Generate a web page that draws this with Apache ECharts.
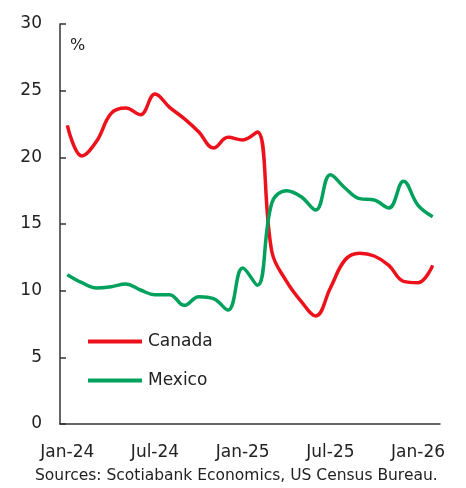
<!DOCTYPE html>
<html><head><meta charset="utf-8">
<script src="https://cdn.jsdelivr.net/npm/echarts@6/dist/echarts.min.js"></script>
<style>html,body{margin:0;padding:0;background:#fff}#c{width:466px;height:488px}</style>
</head><body><div id="c"></div>
<script>
const months = ['Jan-24','Feb-24','Mar-24','Apr-24','May-24','Jun-24','Jul-24','Aug-24','Sep-24','Oct-24','Nov-24','Dec-24',
  'Jan-25','Feb-25','Mar-25','Apr-25','May-25','Jun-25','Jul-25','Aug-25','Sep-25','Oct-25','Nov-25','Dec-25',
  'Jan-26','Feb-26'];
const canada = [22.4,20.1,21.2,23.3,23.7,23.2,24.75,23.75,22.9,21.9,20.7,21.5,21.3,21.9,12.9,10.7,9.2,8.1,10.2,12.3,12.8,12.6,11.9,10.7,10.6,11.9];
const mexico = [11.2,10.6,10.2,10.3,10.5,10.05,9.7,9.7,8.9,9.55,9.4,8.55,11.7,10.4,16.6,17.5,17.05,16.05,18.7,17.7,16.9,16.8,16.2,18.2,16.4,15.55];
const yTicks = [0,5,10,15,20,25,30];
const unitLabel = '%';
const sourceText = 'Sources: Scotiabank Economics, US Census Bureau.';

const font = 'DejaVu Sans';
const txt = '#222';
const chart = echarts.init(document.getElementById('c'), null, {renderer:'canvas'});
chart.setOption({
  animation:false,
  textStyle:{fontFamily:font},
  grid:{left:60,right:26,top:24,bottom:64,containLabel:false},
  legend:{
    orient:'vertical', left:83, top:328, itemWidth:54, itemHeight:4, itemGap:22,
    icon:'rect', textStyle:{fontFamily:font,fontSize:17,color:txt,padding:[0,0,0,1]},
    data:['Canada','Mexico']
  },
  graphic:[
    {type:'text',left:70,top:38,style:{text:unitLabel,font:'16px "DejaVu Sans"',fill:txt}},
    {type:'text',left:35,top:468,style:{text:sourceText,font:'15.5px "DejaVu Sans"',fill:txt}}
  ],
  xAxis:{
    type:'category', data:months, boundaryGap:true,
    axisLine:{lineStyle:{color:'#333',width:1.5}},
    axisTick:{interval:5,length:5,lineStyle:{color:'#333',width:1.5}},
    axisLabel:{interval:5,color:txt,fontSize:17,margin:20,fontFamily:font}
  },
  yAxis:{
    type:'value', min:yTicks[0], max:yTicks[yTicks.length-1], interval:5,
    splitLine:{show:false},
    axisLine:{show:true,lineStyle:{color:'#333',width:1.5}},
    axisTick:{show:true,inside:true,length:6,lineStyle:{color:'#333',width:1.5}},
    axisLabel:{color:txt,fontSize:17,margin:18,fontFamily:font}
  },
  series:[
    {name:'Canada',type:'line',data:canada,smooth:0.4,showSymbol:false,
      lineStyle:{color:'#ec111a',width:3.5},itemStyle:{color:'#ec111a'}},
    {name:'Mexico',type:'line',data:mexico,smooth:0.4,showSymbol:false,
      lineStyle:{color:'#00a15c',width:3.5},itemStyle:{color:'#00a15c'}}
  ]
});
</script></body></html>
